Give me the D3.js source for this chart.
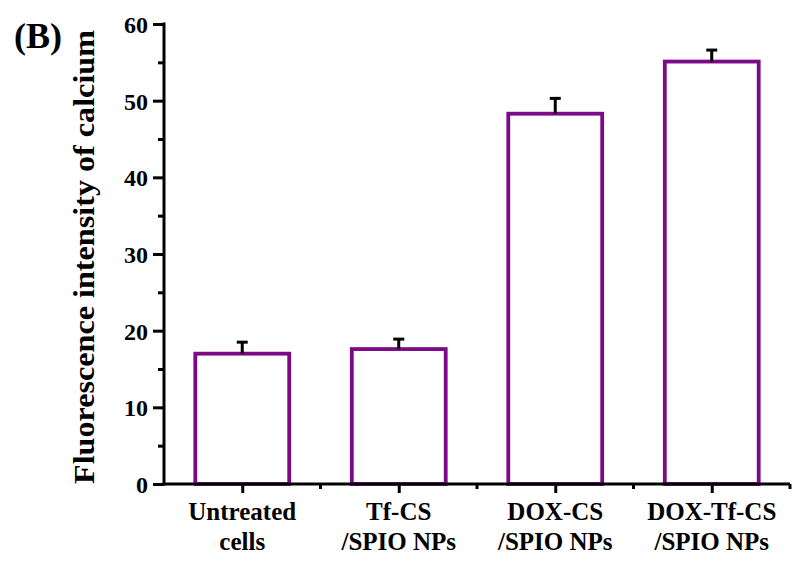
<!DOCTYPE html>
<html><head><meta charset="utf-8">
<script src="https://cdn.jsdelivr.net/npm/d3@7"></script>
<style>body{margin:0;background:#fff}svg{display:block}</style>
</head><body><svg id="c" width="795" height="561"></svg>
<script>
const categories = [["Untreated","cells"],["Tf-CS","/SPIO NPs"],["DOX-CS","/SPIO NPs"],["DOX-Tf-CS","/SPIO NPs"]];
const values = [17.0, 17.6, 48.3, 55.1];
const errors = [1.5, 1.3, 2.0, 1.5];
const yTicks = [0,10,20,30,40,50,60];
const yMinor = [5,15,25,35,45,55];
const yLabel = "Fluorescence intensity of calcium";
const panel = "(B)";

const FONT = "'Liberation Serif', 'Times New Roman', Times, 'DejaVu Serif', serif";
const svg = d3.select("#c");
const purple = "#7c0a88";
const L = 164, R = 790, T = 24, B = 484;
const keys = categories.map(c=>c.join(" "));
const x = d3.scaleBand().domain(keys).range([L,R]).paddingInner(0.4).paddingOuter(0.2);
const xc = d3.scalePoint().domain(keys).range([L,R]).padding(0.5);
const y = d3.scaleLinear().domain([0,60]).range([B,T]);

function styleText(sel, size){
  sel.style("font-family",FONT).style("font-weight","bold").style("font-size",size).attr("fill","#000");
}

// bars
svg.selectAll("rect.bar").data(values).join("rect")
  .attr("x",(d,i)=>x(keys[i])).attr("y",d=>y(d))
  .attr("width",x.bandwidth()).attr("height",d=>B-y(d))
  .attr("fill","none").attr("stroke",purple).attr("stroke-width",3.8);

// error bars
const eb = svg.append("g").attr("stroke","#000").attr("stroke-width",3);
values.forEach((v,i)=>{
  const cx = x(keys[i]) + x.bandwidth()/2;
  eb.append("line").attr("x1",cx).attr("x2",cx).attr("y1",y(v)).attr("y2",y(v+errors[i]));
  eb.append("line").attr("x1",cx-5.5).attr("x2",cx+5.5).attr("y1",y(v+errors[i])).attr("y2",y(v+errors[i]));
});

// y axis
const ya = svg.append("g").attr("transform",`translate(${L},0)`)
  .call(d3.axisLeft(y).tickValues(yTicks).tickSize(11).tickPadding(5).tickFormat(d3.format("d")));
ya.attr("font-family",null);
ya.select(".domain").remove();
ya.selectAll(".tick line").attr("stroke","#000").attr("stroke-width",3);
styleText(ya.selectAll(".tick text").attr("dy","0.35em"), "24px");
const yminor = svg.append("g").attr("transform",`translate(${L},0)`)
  .call(d3.axisLeft(y).tickValues(yMinor).tickSize(6).tickFormat(""));
yminor.select(".domain").remove();
yminor.selectAll(".tick line").attr("stroke","#000").attr("stroke-width",3);
svg.append("line").attr("x1",L).attr("x2",L).attr("y1",T-1.5).attr("y2",B+1.5).attr("stroke","#000").attr("stroke-width",3);

// x axis
const xa = svg.append("g").attr("transform",`translate(0,${B})`)
  .call(d3.axisBottom(xc).tickSize(9).tickFormat(""));
xa.select(".domain").remove();
xa.selectAll(".tick line").attr("stroke","#000").attr("stroke-width",3);
const step = xc.step();
const xMinorPos = keys.map(k=>xc(k)+step/2);
svg.append("g").selectAll("line").data(xMinorPos).join("line")
  .attr("x1",d=>d).attr("x2",d=>d).attr("y1",B).attr("y2",B+5)
  .attr("stroke","#000").attr("stroke-width",3);
svg.append("line").attr("x1",L-1.5).attr("x2",R).attr("y1",B).attr("y2",B).attr("stroke","#000").attr("stroke-width",3);

// x labels
categories.forEach((c,i)=>{
  const t = svg.append("text").attr("x",xc(keys[i])).attr("text-anchor","middle");
  styleText(t,"25px");
  t.append("tspan").attr("x",xc(keys[i])).attr("y",520).text(c[0]);
  t.append("tspan").attr("x",xc(keys[i])).attr("y",550).text(c[1]);
});

// y label
const yl = svg.append("text").attr("transform",`translate(94,257) rotate(-90)`)
  .attr("text-anchor","middle")
  .attr("textLength",454).attr("lengthAdjust","spacingAndGlyphs").text(yLabel);
styleText(yl,"30px");

// panel label
styleText(svg.append("text").attr("x",14).attr("y",48).text(panel),"36px");
</script></body></html>
